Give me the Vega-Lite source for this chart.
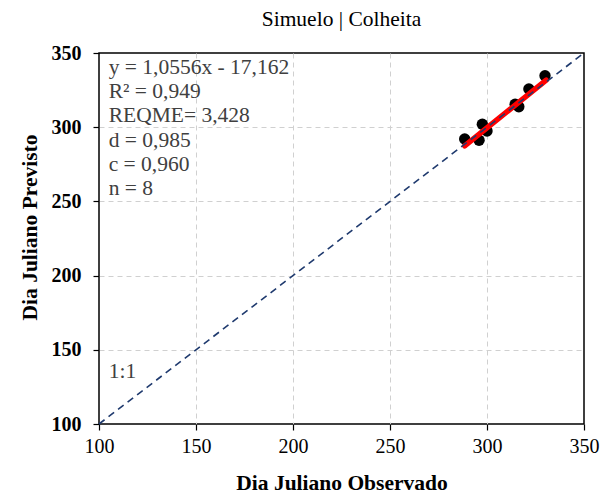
{
  "$schema": "https://vega.github.io/schema/vega-lite/v6.json",
  "width": 485,
  "height": 371,
  "autosize": "none",
  "padding": {"left": 99, "top": 53, "right": 30, "bottom": 75},
  "background": "white",
  "config": {
    "font": "Liberation Serif",
    "view": {"stroke": "black", "strokeWidth": 1.5},
    "title": {"font": "Liberation Serif", "subtitleFont": "Liberation Serif"},
    "axis": {
      "grid": true, "gridDash": [5, 4], "gridColor": "#d0d0d0", "gridWidth": 1,
      "gridOpacity": {"condition": {"test": "datum.value == 100 || datum.value == 350", "value": 0}, "value": 1},
      "domain": false, "tickColor": "black", "tickSize": 6, "tickWidth": 1.2,
      "labelColor": "black", "labelFont": "Liberation Serif", "labelFontSize": 20, "labelFlush": false,
      "titleColor": "black", "titleFont": "Liberation Serif", "titleFontSize": 21.5, "titleFontWeight": "bold"
    }
  },
  "title": {"text": "Simuelo | Colheita", "font": "Liberation Serif", "fontSize": 21.5, "fontWeight": "normal", "color": "black", "offset": 13},
  "datasets": {
    "pts": [
      {"obs": 288.5, "prev": 292.1},
      {"obs": 295.9, "prev": 291.2},
      {"obs": 297.6, "prev": 302.0},
      {"obs": 300.0, "prev": 297.4},
      {"obs": 314.5, "prev": 315.5},
      {"obs": 316.4, "prev": 313.8},
      {"obs": 321.6, "prev": 325.7},
      {"obs": 329.9, "prev": 334.7}
    ],
    "reg": [
      {"obs": 288.5, "prev": 287.4},
      {"obs": 330.5, "prev": 331.7}
    ],
    "one": [
      {"obs": 100, "prev": 100},
      {"obs": 350, "prev": 350}
    ],
    "ann": [
      {"obs": 105, "prev": 340.0, "t": "y = 1,0556x - 17,162"},
      {"obs": 105, "prev": 323.6, "t": "R² = 0,949"},
      {"obs": 105, "prev": 307.3, "t": "REQME= 3,428"},
      {"obs": 105, "prev": 290.9, "t": "d = 0,985"},
      {"obs": 105, "prev": 274.5, "t": "c = 0,960"},
      {"obs": 105, "prev": 258.1, "t": "n = 8"},
      {"obs": 105, "prev": 135.0, "t": "1:1"}
    ]
  },
  "layer": [
    {
      "data": {"name": "pts"},
      "mark": {"type": "circle", "color": "black", "opacity": 1, "size": 130},
      "encoding": {
        "x": {"field": "obs", "type": "quantitative", "scale": {"domain": [100, 350], "nice": false}, "axis": {"values": [100, 150, 200, 250, 300, 350], "title": "Dia Juliano Observado", "titlePadding": 16, "labelPadding": 6}},
        "y": {"field": "prev", "type": "quantitative", "scale": {"domain": [100, 350], "nice": false}, "axis": {"values": [100, 150, 200, 250, 300, 350], "title": "Dia Juliano Previsto", "labelFontWeight": "bold", "titlePadding": 10, "labelPadding": 12, "titleY": 174}}
      }
    },
    {
      "data": {"name": "reg"},
      "mark": {"type": "line", "color": "#ff0000", "strokeWidth": 5.5, "strokeCap": "round"},
      "encoding": {
        "x": {"field": "obs", "type": "quantitative"},
        "y": {"field": "prev", "type": "quantitative"}
      }
    },
    {
      "data": {"name": "one"},
      "mark": {"type": "line", "color": "#1f3a6e", "strokeDash": [7, 5], "strokeWidth": 1.6},
      "encoding": {
        "x": {"field": "obs", "type": "quantitative"},
        "y": {"field": "prev", "type": "quantitative"}
      }
    },
    {
      "data": {"name": "ann"},
      "mark": {"type": "text", "align": "left", "baseline": "middle", "font": "Liberation Serif", "fontSize": 21.5, "color": "#404040"},
      "encoding": {
        "x": {"field": "obs", "type": "quantitative"},
        "y": {"field": "prev", "type": "quantitative"},
        "text": {"field": "t"}
      }
    }
  ]
}
